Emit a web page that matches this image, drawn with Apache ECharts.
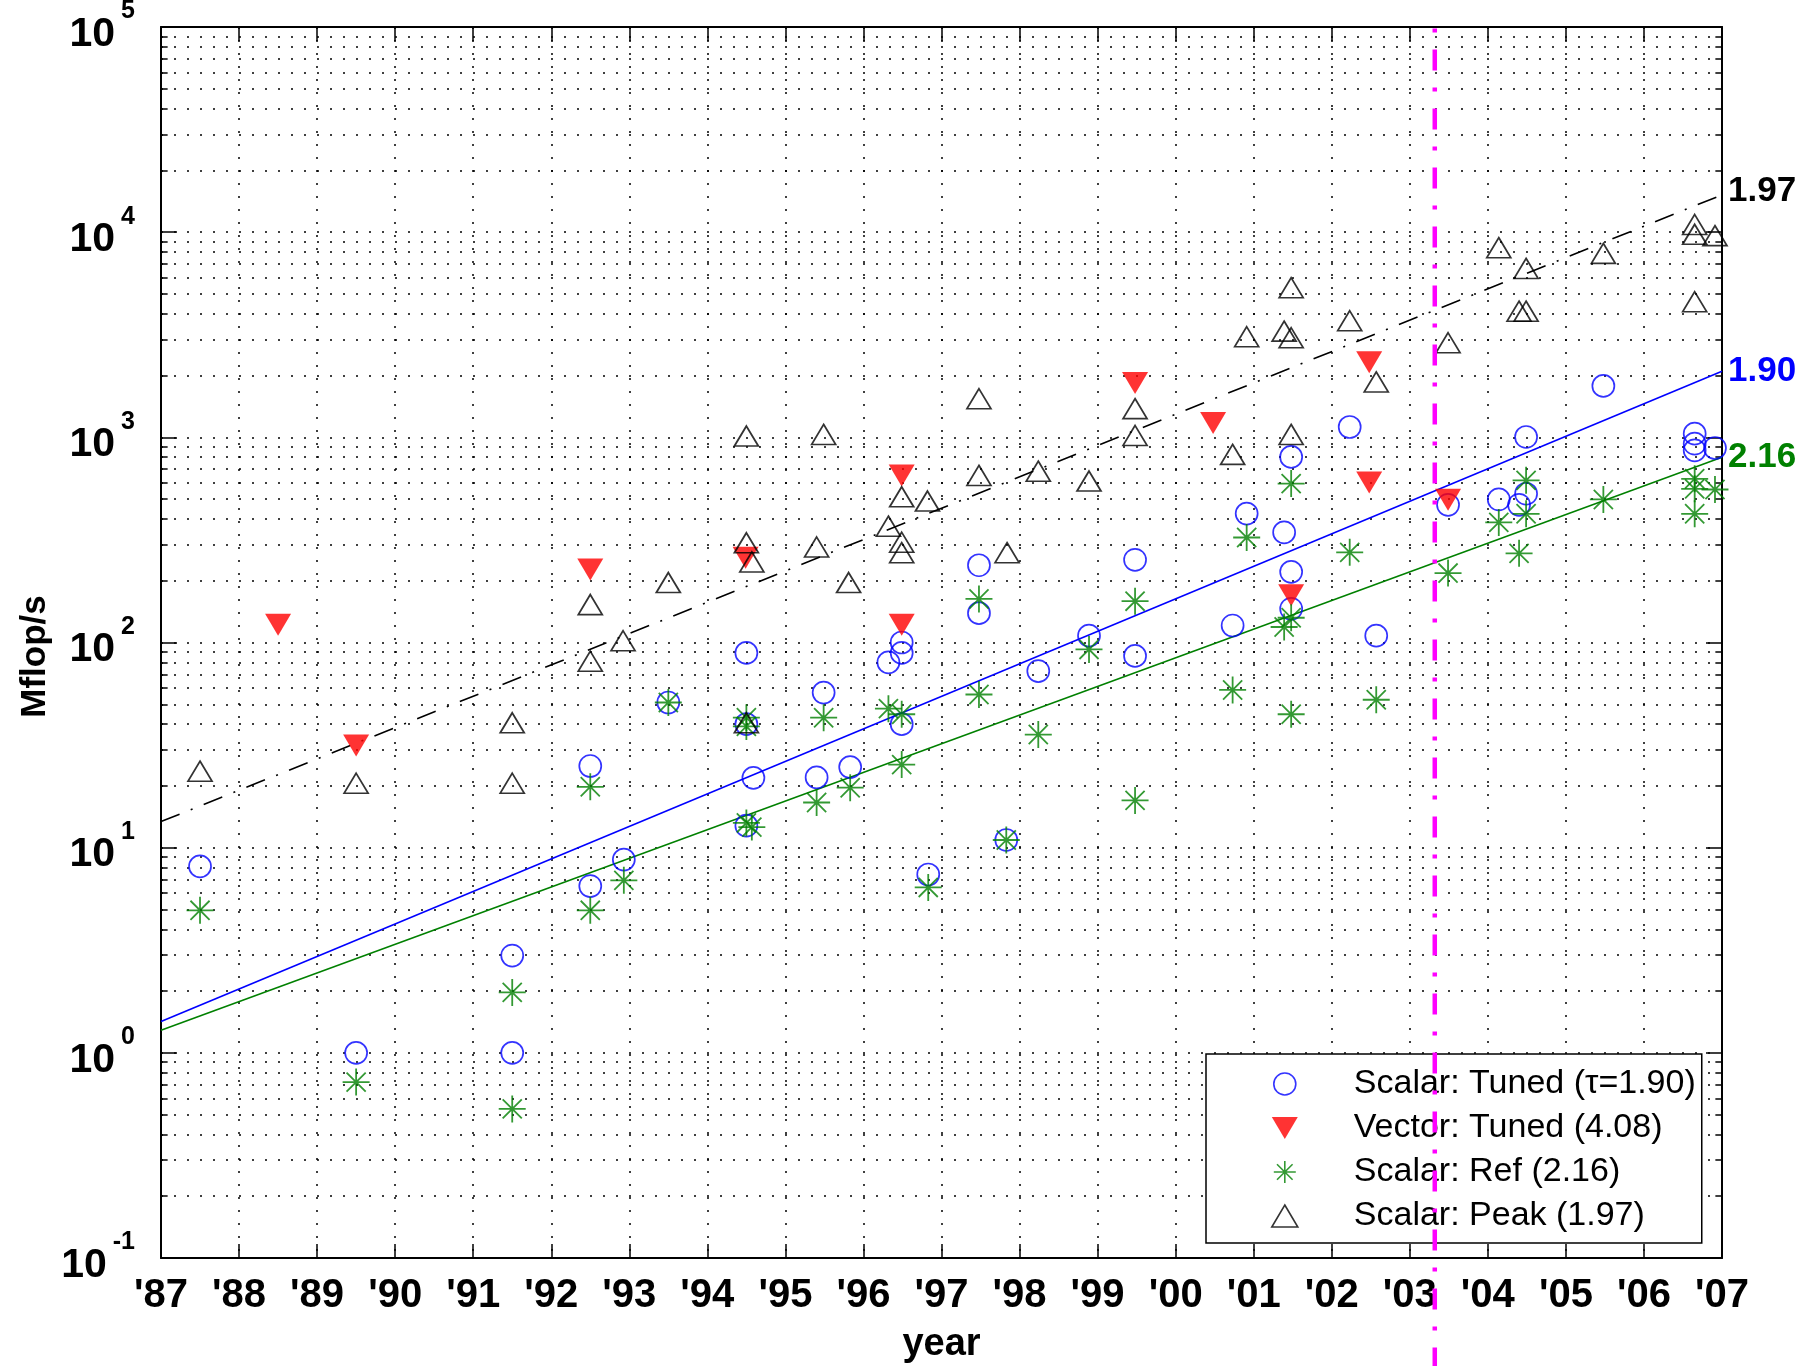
<!DOCTYPE html>
<html>
<head>
<meta charset="utf-8">
<title>Mflop/s by year</title>
<script src="https://cdn.jsdelivr.net/npm/echarts@6/dist/echarts.min.js"></script>
<style>
  html, body { margin: 0; padding: 0; background: #ffffff; }
  #chart { width: 1805px; height: 1366px; }
</style>
</head>
<body>
<div id="chart"></div>
<script>
// ---- axis ticks -------------------------------------------------------
const xTickLabels = ["'87", "'88", "'89", "'90", "'91", "'92", "'93", "'94", "'95", "'96",
                     "'97", "'98", "'99", "'00", "'01", "'02", "'03", "'04", "'05", "'06", "'07"];
const yTickExponents = [-1, 0, 1, 2, 3, 4, 5];
const minorDecades = [0.1, 1, 10, 100, 1000, 10000];
const minorSteps = [2, 3, 4, 5, 6, 7, 8, 9];

// ---- measurements: [year, Mflop/s] -------------------------------------
const scalarTuned = [
  [1987.5, 8.1], [1989.5, 1.0], [1991.5, 2.98], [1991.5, 1.0], [1992.5, 25], [1992.5, 6.5],
  [1992.93, 8.75], [1993.5, 51], [1994.5, 89], [1994.5, 40], [1994.5, 12.8], [1994.59, 21.9],
  [1995.49, 57], [1995.4, 22], [1995.83, 24.7], [1996.32, 80], [1996.49, 100], [1996.49, 89],
  [1996.49, 40], [1996.83, 7.4], [1997.48, 238], [1997.48, 139], [1997.83, 10.9], [1998.24, 72.6],
  [1998.89, 108], [1999.48, 253], [1999.48, 86], [2000.73, 121], [2000.91, 425], [2001.39, 344],
  [2001.48, 803], [2001.48, 221], [2001.48, 146], [2002.23, 1123], [2002.57, 108], [2003.49, 469],
  [2004.14, 498], [2004.4, 469], [2004.49, 531], [2004.49, 1004], [2005.48, 1781], [2006.65, 1042],
  [2006.65, 931], [2006.65, 864], [2006.91, 887]
];
const vectorTuned = [
  [1988.5, 122], [1989.5, 31.5], [1992.5, 227], [1994.49, 259], [1996.49, 652], [1996.49, 122],
  [1999.48, 1840], [2000.48, 1175], [2001.48, 170], [2002.48, 2320], [2002.48, 603], [2003.49, 497]
];
const scalarRef = [
  [1987.5, 4.95], [1989.5, 0.72], [1991.5, 1.97], [1991.5, 0.533], [1992.5, 19.8], [1992.5, 4.95],
  [1992.93, 6.93], [1993.5, 51], [1994.5, 43], [1994.5, 39], [1994.5, 13.2], [1994.57, 12.6],
  [1995.49, 43], [1995.4, 16.6], [1995.83, 19.6], [1996.32, 47.6], [1996.49, 44.7], [1996.49, 25.4],
  [1996.83, 6.4], [1997.48, 163], [1997.48, 55.8], [1997.83, 10.9], [1998.24, 35.6], [1998.89, 92.5],
  [1999.48, 159], [1999.48, 17], [2000.73, 58.7], [2000.91, 325], [2001.48, 595], [2001.39, 119],
  [2001.48, 132], [2001.48, 44.7], [2002.23, 275], [2002.57, 52.6], [2003.49, 218], [2004.14, 385],
  [2004.4, 272], [2004.49, 617], [2004.49, 424], [2005.48, 498], [2006.65, 628], [2006.65, 561],
  [2006.65, 424], [2006.91, 557]
];
const scalarPeak = [
  [1987.5, 23.6], [1989.5, 20.6], [1991.5, 40.6], [1991.5, 20.6], [1992.5, 153], [1992.5, 81],
  [1992.92, 102], [1993.5, 196], [1994.5, 1014], [1994.5, 306], [1994.57, 247], [1994.5, 40.6],
  [1995.49, 1033], [1995.4, 292], [1995.81, 196], [1996.32, 369], [1996.49, 513], [1996.49, 308],
  [1996.49, 274], [1996.82, 489], [1997.48, 1542], [1997.48, 652], [1997.84, 274], [1998.24, 684],
  [1998.89, 612], [1999.48, 1380], [1999.48, 1021], [2000.73, 826], [2000.91, 3092], [2001.39, 3294],
  [2001.48, 3058], [2001.48, 5358], [2001.48, 1033], [2002.23, 3700], [2002.57, 1862], [2003.49, 2890],
  [2004.14, 8400], [2004.4, 4120], [2004.49, 4120], [2004.49, 6658], [2005.48, 7880], [2006.65, 10900],
  [2006.65, 9760], [2006.65, 4580], [2006.91, 9620]
];

// ---- fitted trends (end points) and their doubling-time labels ---------
const tunedTrend = [[1987, 1.42], [2007, 2100]];
const refTrend = [[1987, 1.29], [2007, 800]];
const peakTrend = [[1987, 13.4], [2007, 15200]];
const trendLabels = { tuned: '1.90', ref: '2.16', peak: '1.97' };

// ---- vertical marker ----------------------------------------------------
const markerYear = 2003.32;
const markerLine = [[markerYear, 1e5], [markerYear, 0.01]];

const seriesNames = ['Scalar: Tuned (\u03c4=1.90)', 'Vector: Tuned (4.08)', 'Scalar: Ref (2.16)', 'Scalar: Peak (1.97)'];

// ---- styling ------------------------------------------------------------
const AXIS_FONT = '"Liberation Sans", Arial, Helvetica, sans-serif';
const PLAIN_FONT = '"Liberation Sans", Arial, Helvetica, sans-serif';
const BLUE = '#0000ff', RED = '#ff0000', GREEN = '#008000', BLACK = '#000000', MAGENTA = '#ff00ff';
const ASTERISK = 'path://M0,12L24,12M12,0L12,24M3.5,3.5L20.5,20.5M20.5,3.5L3.5,20.5';
const DOWN_TRIANGLE = 'path://M0,0L26,0L13,22Z';
const X_MIN = 1987, X_MAX = 2007;
const dotted = { type: [2, 11], color: '#000', width: 1.5 };

const minorValues = [];
minorDecades.forEach(d => minorSteps.forEach(s => minorValues.push(+(d * s).toPrecision(3))));
const minorTickLen = 0.085; // in years

const chart = echarts.init(document.getElementById('chart'), null, { renderer: 'canvas' });

const yLabel = {
  margin: 26,
  formatter: v => {
    const e = Math.round(Math.log10(v));
    return yTickExponents.indexOf(e) >= 0 ? '{b|10}{s|' + e + '}' : '';
  },
  rich: {
    b: { fontFamily: AXIS_FONT, fontWeight: 'bold', fontSize: 41, lineHeight: 56, verticalAlign: 'bottom', color: '#000' },
    s: { fontFamily: AXIS_FONT, fontWeight: 'bold', fontSize: 25, lineHeight: 25, verticalAlign: 'top', color: '#000', padding: [0, 0, 0, 6] }
  }
};

const axisLineStyle = { show: true, onZero: false, lineStyle: { color: '#000', width: 2 } };

const option = {
  animation: false,
  backgroundColor: '#ffffff',
  grid: { left: 161, right: 83, top: 27, bottom: 108, containLabel: false, outerBoundsMode: 'none' },
  xAxis: [
    {
      type: 'value', min: X_MIN, max: X_MAX, interval: 1, position: 'bottom',
      axisLine: axisLineStyle,
      axisTick: { inside: true, length: 14, lineStyle: { color: '#000', width: 1.5 } },
      axisLabel: {
        formatter: v => xTickLabels[Math.round(v - X_MIN)] || '',
        fontFamily: AXIS_FONT, fontWeight: 'bold', fontSize: 40, color: '#000', margin: 18
      },
      splitLine: { show: true, lineStyle: dotted },
      name: 'year', nameLocation: 'middle', nameGap: 68, nameMoveOverlap: false,
      nameTextStyle: { fontFamily: AXIS_FONT, fontWeight: 'bold', fontSize: 38, color: '#000' }
    },
    {
      type: 'value', min: X_MIN, max: X_MAX, interval: 1, position: 'top',
      axisLine: axisLineStyle,
      axisTick: { inside: true, length: 14, lineStyle: { color: '#000', width: 1.5 } },
      axisLabel: { show: false }, splitLine: { show: false }
    }
  ],
  yAxis: [
    {
      type: 'log', logBase: 10, min: 0.1, max: 1e5, interval: 1, position: 'left',
      axisLine: axisLineStyle,
      axisTick: { inside: true, length: 16, lineStyle: { color: '#000', width: 1.5 } },
      axisLabel: yLabel,
      splitLine: { show: true, lineStyle: dotted },
      name: 'Mflop/s', nameLocation: 'middle', nameGap: 108, nameRotate: 90, nameMoveOverlap: false,
      nameTextStyle: { fontFamily: AXIS_FONT, fontWeight: 'bold', fontSize: 35, color: '#000', padding: [0, 28, 0, 0] }
    },
    {
      type: 'log', logBase: 10, min: 0.1, max: 1e5, interval: 1, position: 'right',
      axisLine: axisLineStyle,
      axisTick: { inside: true, length: 16, lineStyle: { color: '#000', width: 1.5 } },
      axisLabel: { show: false }, splitLine: { show: false }
    }
  ],
  legend: {
    data: seriesNames,
    orient: 'vertical',
    left: 1206, top: 1054,
    padding: [8, 6, 5, 65],
    itemWidth: 26, itemHeight: 22, itemGap: 0,
    backgroundColor: '#ffffff', borderColor: '#000', borderWidth: 1.5, borderRadius: 0,
    textStyle: { fontFamily: PLAIN_FONT, fontSize: 34, color: '#000', lineHeight: 44, padding: [0, 0, 0, 51] },
    itemStyle: { borderWidth: 1.6 },
    selectedMode: false,
    z: 4
  },
  series: [
    // minor horizontal grid lines (2..9 x 10^k)
    {
      type: 'line', data: [], silent: true, z: 1,
      markLine: {
        silent: true, symbol: ['none', 'none'], z: 1, animation: false,
        label: { show: false }, lineStyle: dotted, emphasis: { disabled: true },
        data: minorValues.map(v => ({ yAxis: v }))
      }
    },
    // minor ticks on the left and right frame
    {
      type: 'line', data: [], silent: true, z: 3,
      markLine: {
        silent: true, symbol: ['none', 'none'], z: 3, animation: false,
        label: { show: false }, lineStyle: { type: 'solid', color: '#000', width: 1.5 }, emphasis: { disabled: true },
        data: minorValues.map(v => [{ coord: [X_MIN, v] }, { coord: [X_MIN + minorTickLen, v] }])
          .concat(minorValues.map(v => [{ coord: [X_MAX - minorTickLen, v] }, { coord: [X_MAX, v] }]))
      }
    },
    // fitted trends
    {
      type: 'line', data: tunedTrend, symbol: 'none', silent: true, z: 3,
      lineStyle: { color: BLUE, width: 1.6 },
      endLabel: { show: true, formatter: trendLabels.tuned, color: BLUE, fontFamily: PLAIN_FONT, fontWeight: 'bold', fontSize: 35, distance: 6 }
    },
    {
      type: 'line', data: refTrend, symbol: 'none', silent: true, z: 3,
      lineStyle: { color: GREEN, width: 1.6 },
      endLabel: { show: true, formatter: trendLabels.ref, color: GREEN, fontFamily: PLAIN_FONT, fontWeight: 'bold', fontSize: 35, distance: 6 }
    },
    {
      type: 'line', data: peakTrend, symbol: 'none', silent: true, z: 3,
      lineStyle: { color: BLACK, width: 1.6, type: [20, 12, 2, 12] },
      endLabel: { show: true, formatter: trendLabels.peak, color: BLACK, fontFamily: PLAIN_FONT, fontWeight: 'bold', fontSize: 35, distance: 6, offset: [0, -4] }
    },
    // measurements
    {
      name: seriesNames[0], type: 'scatter', data: scalarTuned, z: 4,
      symbol: 'circle', symbolSize: 22,
      itemStyle: { color: 'transparent', borderColor: BLUE, borderWidth: 1.7 }
    },
    {
      name: seriesNames[1], type: 'scatter', data: vectorTuned, z: 4,
      symbol: DOWN_TRIANGLE, symbolSize: [26, 22],
      itemStyle: { color: RED, borderWidth: 0 }
    },
    {
      name: seriesNames[2], type: 'scatter', data: scalarRef, z: 4,
      symbol: ASTERISK, symbolSize: 27,
      itemStyle: { color: 'transparent', borderColor: GREEN, borderWidth: 1.8 }
    },
    {
      name: seriesNames[3], type: 'scatter', data: scalarPeak, z: 4,
      symbol: 'triangle', symbolSize: [24, 20],
      itemStyle: { color: 'transparent', borderColor: BLACK, borderWidth: 1.7 }
    },
    // vertical dash-dot marker, running past the frame
    {
      type: 'line', data: markerLine, symbol: 'none', silent: true, clip: false, z: 10,
      lineStyle: { color: MAGENTA, width: 4.5, type: [21, 17, 4, 17], dashOffset: 36.5 }
    }
  ]
};

chart.setOption(option);
</script>
</body>
</html>
